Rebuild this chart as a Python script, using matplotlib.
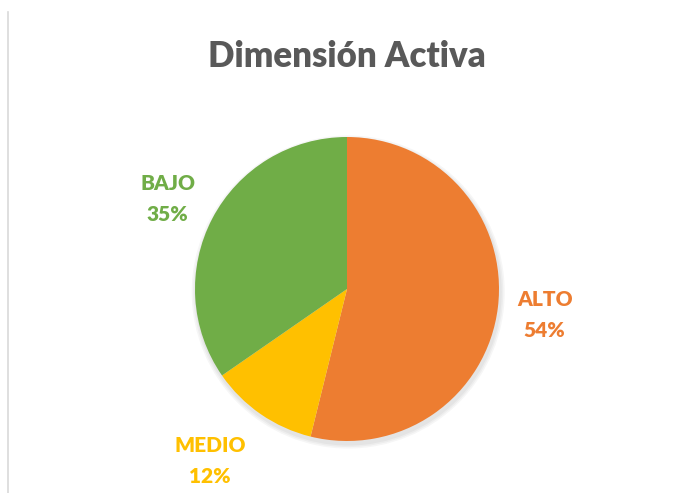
import matplotlib.pyplot as plt
from matplotlib.lines import Line2D
from matplotlib.patches import Circle

labels = ["ALTO", "MEDIO", "BAJO"]
values = [53.8, 11.5, 34.6]
pct_labels = ["54%", "12%", "35%"]
colors = ["#ED7D31", "#FFC000", "#70AD47"]

W, H = 674, 493
fig = plt.figure(figsize=(W / 100, H / 100), dpi=100)

# pie centre and radius in pixels
cx, cy, r = 347, 289, 152
ax = fig.add_axes([(cx - r) / W, (H - cy - r) / H, 2 * r / W, 2 * r / H])
ax.set_xlim(-1, 1)
ax.set_ylim(-1, 1)
ax.set_aspect("equal")
ax.axis("off")

# soft shadow under the pie
for k in range(3):
    ax.add_patch(Circle((0.008, -0.02), 1 + 0.01 * (k + 1), color="black",
                        alpha=0.035, lw=0, zorder=0, clip_on=False))

ax.pie(values, colors=colors, startangle=90, counterclock=False, radius=1,
       wedgeprops=dict(linewidth=0, zorder=2))
ax.set_xlim(-1, 1)
ax.set_ylim(-1, 1)

font = ["Lato", "DejaVu Sans"]
label_pos = [(1.30, -0.17), (-0.90, -1.13), (-1.18, 0.59)]
for lab, pct, col, (x, y) in zip(labels, pct_labels, colors, label_pos):
    ax.text(x, y, lab + "\n" + pct, color=col, fontsize=15, fontweight="heavy",
            family=font, ha="center", va="center", linespacing=1.75)

fig.text(0.515, 0.885, "Dimensión Activa", color="#595959", fontsize=25,
         fontweight="heavy", family=font, ha="center", va="center")

fig.add_artist(Line2D([8 / W, 8 / W], [0, 1 - 12 / H], color="#d9d9d9", lw=1.2))

fig.savefig("out.png", dpi=100, facecolor="white")
